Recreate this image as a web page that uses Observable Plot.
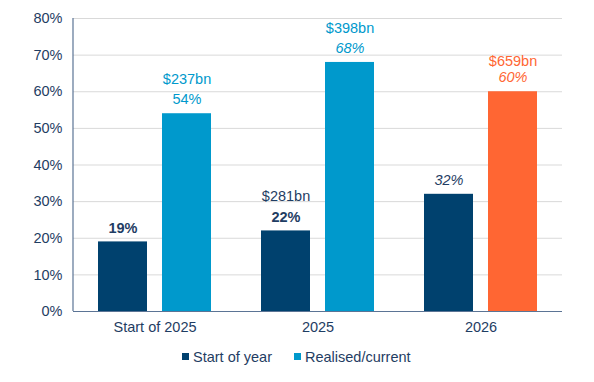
<!DOCTYPE html>
<html>
<head>
<meta charset="utf-8">
<script src="https://cdn.jsdelivr.net/npm/d3@7"></script>
<script src="https://cdn.jsdelivr.net/npm/@observablehq/plot@0.6"></script>
<style>
  html, body { margin: 0; padding: 0; background: #fff; }
  body { width: 594px; height: 382px; font-family: "Liberation Sans", Arial, sans-serif; }
  #legend { display: flex; gap: 22px; margin-left: 182px; margin-top: 9px; font-size: 14.5px; color: #1f3d63; }
  #legend span.sw { display: inline-block; width: 7px; height: 7px; margin-right: 4px; vertical-align: 2px; }
</style>
</head>
<body>
<div id="chart"></div>
<div id="legend"></div>
<script>
const groups = ["Start of 2025", "2025", "2026"];
const series = ["Start of year", "Realised/current"];
const startOfYear = [19, 22, 32];
const realised = [54, 68, 60];
const amountStart = [null, "$281bn", null];
const amountRealised = ["$237bn", "$398bn", "$659bn"];
const pctStart = ["19%", "22%", "32%"];
const pctRealised = ["54%", "68%", "60%"];
const yTicks = [0, 10, 20, 30, 40, 50, 60, 70, 80];

const NAVY = "#00416e", BLUE = "#0099cc", ORANGE = "#ff6633", TEXT = "#1f3d63";

const data = [];
groups.forEach((g, i) => {
  data.push({g, s: series[0], v: startOfYear[i], amt: amountStart[i], pct: pctStart[i], i});
  data.push({g, s: series[1], v: realised[i], amt: amountRealised[i], pct: pctRealised[i], i});
});
const isOrange = d => d.g === "2026" && d.s === "Realised/current";
const fillOf = d => isOrange(d) ? ORANGE : (d.s === "Start of year" ? NAVY : BLUE);
const labelFill = d => isOrange(d) ? ORANGE : (d.s === "Start of year" ? TEXT : BLUE);

const bold = data.filter(d => d.s === "Start of year" && d.i < 2);
const italic = data.filter(d => (d.s === "Realised/current" && d.i > 0) || (d.s === "Start of year" && d.i === 2));
const plain = data.filter(d => d.s === "Realised/current" && d.i === 0);
const amts = data.filter(d => d.amt && !isOrange(d));
const amtsOrange = data.filter(d => d.amt && isOrange(d));

const plot = Plot.plot({
  width: 594,
  height: 340,
  marginLeft: 73,
  marginRight: 32,
  marginTop: 18,
  marginBottom: 29,
  style: {fontFamily: "Liberation Sans, Arial, sans-serif", fontSize: "14.5px", color: TEXT, background: "#fff"},
  fx: {domain: groups, padding: 0, label: null},
  x: {domain: series, paddingInner: 0.234, paddingOuter: 0.39, axis: null},
  y: {domain: [0, 80], label: null, axis: null},
  marks: [
    Plot.gridY(yTicks.slice(1), {stroke: "#d9d9d9", strokeOpacity: 1}),
    Plot.axisY(yTicks, {anchor: "left", tickSize: 0, tickPadding: 11, tickFormat: d => d + "%", fill: TEXT, fontSize: "14.5px", label: null}),
    Plot.axisFx({anchor: "bottom", tickSize: 0, tickPadding: 10, label: null, fill: TEXT, fontSize: "14.5px"}),
    Plot.barY(data, {fx: "g", x: "s", y: "v", fill: fillOf}),
    Plot.ruleY([0], {stroke: "#5b7495", strokeWidth: 1.2}),
    Plot.text(bold, {fx: "g", x: "s", y: "v", text: "pct", fill: labelFill, fontWeight: "bold", dy: -14, fontSize: 14.5}),
    Plot.text(italic, {fx: "g", x: "s", y: "v", text: "pct", fill: labelFill, fontStyle: "italic", dy: -14, fontSize: 14.5}),
    Plot.text(plain, {fx: "g", x: "s", y: "v", text: "pct", fill: labelFill, dy: -14, fontSize: 14.5}),
    Plot.text(amts, {fx: "g", x: "s", y: "v", text: "amt", fill: labelFill, dy: -34.5, fontSize: 14.5}),
    Plot.text(amtsOrange, {fx: "g", x: "s", y: "v", text: "amt", fill: labelFill, dy: -30.5, fontSize: 14.5})
  ]
});
document.getElementById("chart").appendChild(plot);

// left axis line drawn from the y scale
const ys = plot.scale("y");
const svg = d3.select(plot);
const fxs = plot.scale("fx");
svg.append("line")
  .attr("x1", 73).attr("x2", 73)
  .attr("y1", ys.apply(80)).attr("y2", ys.apply(0))
  .attr("stroke", "#5b7495").attr("stroke-width", 1.2);

const legend = document.getElementById("legend");
[[series[0], NAVY], [series[1], BLUE]].forEach(([name, c]) => {
  const item = document.createElement("div");
  item.innerHTML = `<span class="sw" style="background:${c}"></span>${name}`;
  legend.appendChild(item);
});
</script>
</body>
</html>
